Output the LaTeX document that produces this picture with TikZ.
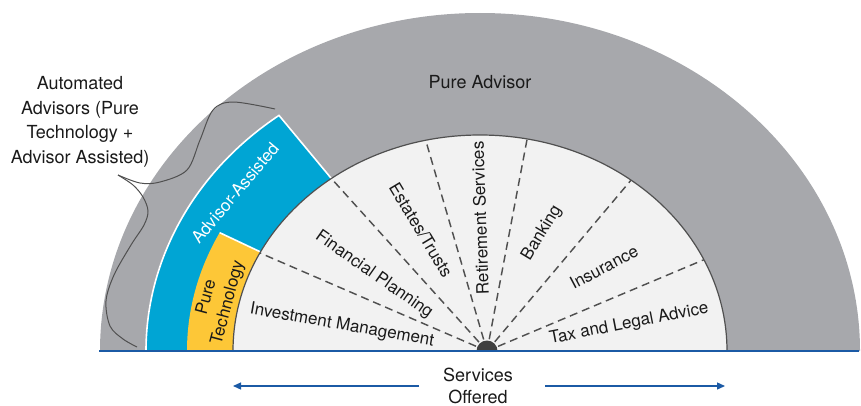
\documentclass[tikz,border=0pt]{standalone}
\usepackage{fontspec}
\setmainfont{TeX Gyre Heros}
\usetikzlibrary{arrows.meta}
\definecolor{outergray}{HTML}{A7A8AC}
\definecolor{bandblue}{HTML}{00A5D4}
\definecolor{bandyellow}{HTML}{FDC737}
\definecolor{innerfill}{HTML}{F2F2F2}
\definecolor{edgegray}{HTML}{505050}
\definecolor{lineblue}{HTML}{1B5AA5}
\definecolor{dotgray}{HTML}{404040}
\definecolor{textdark}{HTML}{1A1A1A}
\begin{document}
\begin{tikzpicture}[x=1pt,y=1pt,
  lab/.style={font=\fontsize{17}{20}\selectfont, text=textdark, inner sep=0pt, anchor=center},
  ttl/.style={font=\fontsize{18}{24.5}\selectfont, text=textdark, inner sep=0pt, align=center},
  spoke/.style={draw=edgegray, line width=1.45pt, dash pattern=on 8pt off 5pt, shorten <=12pt},
  sepline/.style={white, line width=1.6pt},
  axisarrow/.style={draw=lineblue, line width=1.3pt, -{Triangle[length=8pt,width=7pt]}},
  bracestyle/.style={draw=edgegray, line width=1pt}]
\useasboundingbox (0,-54) rectangle (861,351);

\begin{scope}[shift={(480,0)}]
  % outer gray (Pure Advisor)
  \fill[outergray] (-380,0) arc[start angle=180,end angle=0,x radius=380,y radius=338] -- cycle;
  % blue band (Advisor-Assisted)
  \fill[bandblue] (-334,0) arc[start angle=180,end angle=127,x radius=334,y radius=295]
     -- (127:247 and 216) arc[start angle=127,end angle=180,x radius=247,y radius=216] -- cycle;
  \draw[sepline] (127:247 and 216) -- (127:334 and 295)
     arc[start angle=127,end angle=180,x radius=334,y radius=295];
  % yellow band (Pure Technology)
  \fill[bandyellow] (-293,0) arc[start angle=180,end angle=152.7,x radius=293,y radius=258]
     -- (152.7:247 and 216) arc[start angle=152.7,end angle=180,x radius=247,y radius=216] -- cycle;
  \draw[sepline] (152.7:247 and 216) -- (152.7:293 and 258);
  % inner services area
  \fill[innerfill] (-247,0) arc[start angle=180,end angle=0,x radius=247,y radius=216] -- cycle;
  \draw[edgegray, line width=1.2pt] (-247,0) arc[start angle=180,end angle=0,x radius=247,y radius=216];
  % spoke ends
  \coordinate (e1) at (153:247 and 216);
  \coordinate (e2) at (127:247 and 216);
  \coordinate (e3) at (102.7:247 and 216);
  \coordinate (e4) at (79:247 and 216);
  \coordinate (e5) at (52.3:247 and 216);
  \coordinate (e6) at (25:247 and 216);
\end{scope}

\coordinate (o) at (487,0);
\foreach \e in {e1,e2,e3,e4,e5,e6} \draw[spoke] (o) -- (\e);
\fill[dotgray] (o) ++(-10.5,0) arc[start angle=180,end angle=0,radius=10.5] -- cycle;

% baseline
\coordinate (bl) at (99,0);
\coordinate (br) at (859,0);
\draw[lineblue, line width=2.7pt] (bl) -- (br);

% labels
\node[ttl] (pa) at (480,269) {Pure Advisor};
\node[lab, rotate=-10] (im) at (342,25.5) {Investment Management};
\node[lab, rotate=-35] (fp) at (374,76) {Financial Planning};
\node[lab, rotate=-59] (et) at (421,121) {Estates/Trusts};
\node[lab, rotate=92] (rs) at (480,133) {Retirement Services};
\node[lab, rotate=59] (bk) at (542,118) {Banking};
\node[lab, rotate=28] (ins) at (604,84) {Insurance};
\node[lab, rotate=11] (tax) at (629,27) {Tax and Legal Advice};
\node[lab, rotate=50, text=white] (aa) at (235,158) {Advisor-Assisted};
\node[lab, rotate=75, align=center, font=\fontsize{17}{22}\selectfont] (pt) at (217.5,51) {Pure\\Technology};

% automated advisors note and brace
\node[ttl] (auto) at (80,229) {Automated\\Advisors (Pure\\Technology +\\Advisor Assisted)};
\coordinate (bA) at (275,242);
\coordinate (bC) at (118,176);
\coordinate (bB) at (137,4);
\draw[bracestyle] plot[smooth, tension=0.55] coordinates {(bA) (233,249) (213,241) (200,211) (187,181) (160,169) (140,168) (bC)};
\draw[bracestyle] plot[smooth, tension=0.55] coordinates {(bC) (133,166) (143,154) (148,140) (144,126) (131,106) (114,76) (106,50) (110,25) (123,12) (bB)};

% services offered axis
\node[ttl, font=\fontsize{18}{22}\selectfont] (so) at (478,-35) {Services\\Offered};
\coordinate (la) at (419,-35);
\coordinate (lt) at (233,-35);
\coordinate (ra) at (545,-35);
\coordinate (rt) at (725,-35);
\draw[axisarrow] (la) -- (lt);
\draw[axisarrow] (ra) -- (rt);
\end{tikzpicture}
\end{document}
